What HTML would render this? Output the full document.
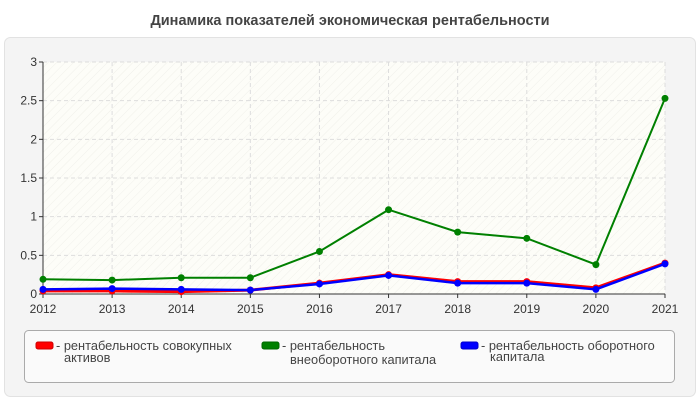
<!DOCTYPE html>
<html><head><meta charset="utf-8"><style>
body{margin:0;width:700px;height:400px;background:#fff;font-family:"Liberation Sans",sans-serif;overflow:hidden}
</style></head><body>
<svg width="700" height="400" xmlns="http://www.w3.org/2000/svg">
<defs><pattern id="hatch" width="6" height="6" patternUnits="userSpaceOnUse" patternTransform="rotate(45)"><rect width="6" height="6" fill="#fdfdf8"/><line x1="0" y1="0" x2="0" y2="6" stroke="#f0f0ea" stroke-width="1"/></pattern></defs>
<text x="350" y="25" text-anchor="middle" font-size="14.5" font-weight="bold" fill="#444">Динамика показателей экономическая рентабельности</text>
<rect x="4.5" y="37.5" width="691" height="359" rx="6" fill="#f4f4f4" stroke="#e2e2e2"/>
<g id="plot"></g>
<rect x="24.5" y="330.5" width="650" height="52" rx="4" fill="#fafafa" stroke="#aaa"/>
<g><rect x="36" y="342" width="17" height="7" rx="2" fill="red" stroke="#c00"/><text x="56" y="350" font-size="12.8" fill="#444">- рентабельность совокупных</text><text x="64" y="362" font-size="12.8" fill="#444">активов</text></g>
<g><rect x="262" y="342" width="17" height="7" rx="2" fill="green" stroke="#060"/><text x="282" y="350" font-size="12.8" fill="#444">- рентабельность</text><text x="290" y="364" font-size="12.8" fill="#444">внеоборотного капитала</text></g>
<g><rect x="461" y="342" width="17" height="7" rx="2" fill="blue" stroke="#00c"/><text x="481" y="350" font-size="12.8" fill="#444">- рентабельность оборотного</text><text x="490" y="361" font-size="12.8" fill="#444">капитала</text></g>
</svg>
<script>
const years=["2012","2013","2014","2015","2016","2017","2018","2019","2020","2021"];
const yTicks=[0,0.5,1,1.5,2,2.5,3];
const seriesRed=[0.04,0.04,0.03,0.05,0.14,0.25,0.16,0.16,0.08,0.40];
const seriesGreen=[0.19,0.18,0.21,0.21,0.55,1.09,0.80,0.72,0.38,2.53];
const seriesBlue=[0.06,0.07,0.06,0.05,0.13,0.24,0.14,0.14,0.06,0.39];
const NS="http://www.w3.org/2000/svg";
const g=document.getElementById('plot');
const X0=43,X1=665,Y0=294,Y1=62;
const xs=i=>X0+(X1-X0)*i/(years.length-1);
const ys=v=>Y0-(Y0-Y1)*v/3;
function mk(t,a){const e=document.createElementNS(NS,t);for(const k in a)e.setAttribute(k,a[k]);g.appendChild(e);return e;}
let bg=mk('rect',{x:X0,y:Y1,width:X1-X0,height:Y0-Y1,fill:'url(#hatch)'});


yTicks.forEach(t=>{
 if(t>0){let l=mk('line',{x1:X0,x2:X1,y1:ys(t),y2:ys(t),stroke:'#ddd','stroke-dasharray':'4,3'});
 
 }
 mk('line',{x1:X0-4,x2:X0,y1:ys(t),y2:ys(t),stroke:'#333'});
 let tx=mk('text',{x:X0-6,y:ys(t)+4,'text-anchor':'end','font-size':'12',fill:'#333'});tx.textContent=t;
 
 
});
years.forEach((y,i)=>{
 if(i>0){let l=mk('line',{x1:xs(i),x2:xs(i),y1:Y1,y2:Y0,stroke:'#ddd','stroke-dasharray':'4,3'});
 
 }
 mk('line',{x1:xs(i),x2:xs(i),y1:Y0,y2:Y0+4,stroke:'#333'});
 let tx=mk('text',{x:xs(i),y:Y0+19,'text-anchor':'middle','font-size':'12',fill:'#333'});tx.textContent=y;
 
 
});
mk('line',{x1:X0,x2:X0,y1:Y1,y2:Y0,stroke:'#333'});
mk('line',{x1:X0,x2:X1,y1:Y0,y2:Y0,stroke:'#333'});
function series(vals,col,w,name){
 let p=mk('polyline',{points:vals.map((v,i)=>xs(i)+','+ys(v)).join(' '),fill:'none',stroke:col,'stroke-width':w});
 
 
 vals.forEach((v,i)=>{let c=mk('circle',{cx:xs(i),cy:ys(v),r:3.5,fill:col});
 
 });
}
series(seriesRed,'red',3,'red-series');
series(seriesGreen,'green',2,'green-series');
series(seriesBlue,'blue',2.5,'blue-series');
</script>
</body></html>
